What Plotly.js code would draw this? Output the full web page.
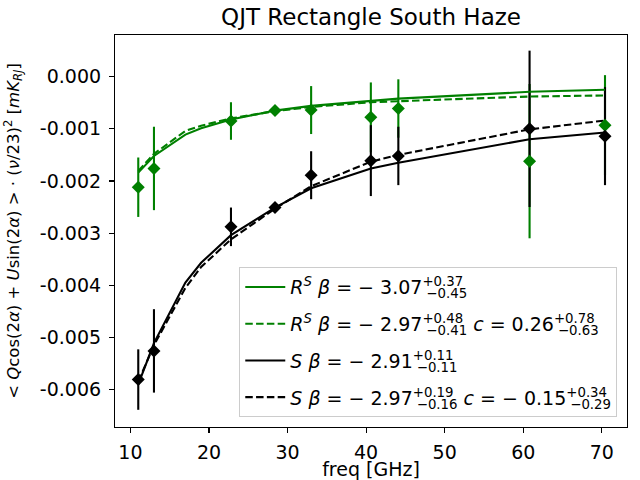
<!DOCTYPE html>
<html>
<head>
<meta charset="utf-8">
<script src="https://cdn.plot.ly/plotly-3.0.1.min.js"></script>
<style>html,body{margin:0;padding:0;background:#fff;}#plot{width:640px;height:480px;}</style>
</head>
<body>
<div id="plot"></div>
<script>
// Data
var freq = [11, 13, 22.8, 28.4, 33, 40.6, 44.1, 60.8, 70.4];
var rsValues = [-0.00212, -0.00176, -0.00085, -0.00065, -0.00064, -0.00078, -0.00061, -0.00162, -0.00093];
var rsErrors = [0.00057, 0.00080, 0.00036, 0.00006, 0.00046, 0.00067, 0.00056, 0.00148, 0.00096];
var sValues = [-0.00581, -0.00526, -0.00288, -0.00251, -0.00189, -0.00161, -0.00152, -0.00100, -0.00114];
var sErrors = [0.00058, 0.00080, 0.00037, 0.00005, 0.00046, 0.00068, 0.00056, 0.00150, 0.00094];

var fitFreq = [11, 13, 17, 19, 22.8, 28.4, 33, 40.6, 44.1, 60.8, 70.4];
var rsFitSolid = [-0.00184, -0.00152, -0.00111, -0.00099, -0.00082, -0.00065, -0.00056, -0.00046, -0.00042, -0.00029, -0.00025];
var rsFitDash = [-0.00181, -0.00148, -0.00104, -0.00094, -0.00080, -0.00066, -0.00058, -0.00049, -0.00047, -0.00038, -0.00036];
var sFitSolid = [-0.00590, -0.00511, -0.00395, -0.00357, -0.00304, -0.00251, -0.00214, -0.00176, -0.00165, -0.00120, -0.00107];
var sFitDash = [-0.00585, -0.00515, -0.00405, -0.00365, -0.00312, -0.00253, -0.00210, -0.00163, -0.00150, -0.00101, -0.00084];

// stacked super/subscript: a negative-spacing blank pulls the subscript back under the superscript
function pm(up, down) {
  return "<sup>" + up + "<span style=\"letter-spacing:-41px\"> </span></sup><sub>" + down + "</sub>";
}
var legendNames = [
  "<i>R</i><sup><i>S</i></sup> <i>β</i> = − 3.07" + pm("+0.37", "−0.45"),
  "<i>R</i><sup><i>S</i></sup> <i>β</i> = − 2.97" + pm("+0.48", "−0.41") + " <i>c</i> = 0.26" + pm("+0.78", "−0.63"),
  "<i>S</i> <i>β</i> = − 2.91" + pm("+0.11", "−0.11"),
  "<i>S</i> <i>β</i> = − 2.97" + pm("+0.19", "−0.16") + " <i>c</i> = − 0.15" + pm("+0.34", "−0.29")
];

var yTickVals = [-0.006, -0.005, -0.004, -0.003, -0.002, -0.001, 0];
var yTickText = ["-0.006", "-0.005", "-0.004", "-0.003", "-0.002", "-0.001", "0.000"];
var xTickVals = [10, 20, 30, 40, 50, 60, 70];

var GREEN = "#008000", BLACK = "#000000";

function errTrace(y, e, color) {
  return {
    x: freq, y: y, type: "scatter", mode: "markers",
    marker: {color: "rgba(0,0,0,0)", size: 1},
    error_y: {type: "data", array: e, visible: true, color: color, thickness: 2.1, width: 0},
    showlegend: false, hoverinfo: "skip"
  };
}
function fitTrace(y, color, dash, name, grp) {
  return {
    x: fitFreq, y: y, type: "scatter", mode: "lines",
    line: {color: color, width: 2.1, dash: dash},
    name: name, showlegend: true, legendgroup: grp
  };
}
function markerTrace(y, color) {
  return {
    x: freq, y: y, type: "scatter", mode: "markers",
    marker: {symbol: "diamond", size: 10, color: color, line: {width: 0}},
    showlegend: false
  };
}

var traces = [
  errTrace(rsValues, rsErrors, GREEN),
  errTrace(sValues, sErrors, BLACK),
  fitTrace(rsFitSolid, GREEN, "solid", legendNames[0], "g1"),
  fitTrace(rsFitDash, GREEN, "7.5px,3.3px", legendNames[1], "g2"),
  fitTrace(sFitSolid, BLACK, "solid", legendNames[2], "g3"),
  fitTrace(sFitDash, BLACK, "7.5px,3.3px", legendNames[3], "g4"),
  markerTrace(rsValues, GREEN),
  markerTrace(sValues, BLACK)
];

var FONT = "DejaVu Sans, Liberation Sans, sans-serif";
var layout = {
  width: 640, height: 480,
  margin: {l: 115, r: 13, t: 35, b: 53, pad: 0},
  paper_bgcolor: "#fff", plot_bgcolor: "#fff",
  font: {family: FONT, size: 19, color: "#000"},
  title: {text: "QJT Rectangle South Haze", font: {family: FONT, size: 23, color: "#000"},
          x: 0.5, xref: "paper", xanchor: "center", y: 0.964, yref: "container", yanchor: "middle"},
  xaxis: {
    range: [8.04, 73.2], tickvals: xTickVals, ticks: "outside", ticklen: 5, tickwidth: 1.1, tickcolor: "#000",
    showline: true, mirror: true, linecolor: "#000", linewidth: 1.1, showgrid: false, zeroline: false,
    tickfont: {family: FONT, size: 19}, ticklabelstandoff: 3,
    title: {text: "freq [GHz]", font: {family: FONT, size: 19}, standoff: 9}
  },
  yaxis: {
    range: [-0.00672, 0.0008], tickvals: yTickVals, ticktext: yTickText, ticks: "outside", ticklen: 5, tickwidth: 1.1, tickcolor: "#000",
    showline: true, mirror: true, linecolor: "#000", linewidth: 1.1, showgrid: false, zeroline: false,
    tickfont: {family: FONT, size: 19}, ticklabelstandoff: 4,
    title: {text: "< <i>Q</i>cos(2<i>α</i>) + <i>U</i>sin(2<i>α</i>) > · (<i>ν</i>/23)<sup>2</sup> [<i>mK</i><sub><i>RJ</i></sub>]",
            font: {family: FONT, size: 16.5}, standoff: 16}
  },
  legend: {
    x: 0.981, xanchor: "right", y: 0.025, yanchor: "bottom",
    bgcolor: "rgba(255,255,255,0.8)", bordercolor: "#cccccc", borderwidth: 1,
    font: {family: FONT, size: 19, color: "#000"}, itemwidth: 40,
    traceorder: "grouped", tracegroupgap: 9
  },
  showlegend: true
};

Plotly.newPlot("plot", traces, layout, {staticPlot: true, displayModeBar: false});
</script>
</body>
</html>
